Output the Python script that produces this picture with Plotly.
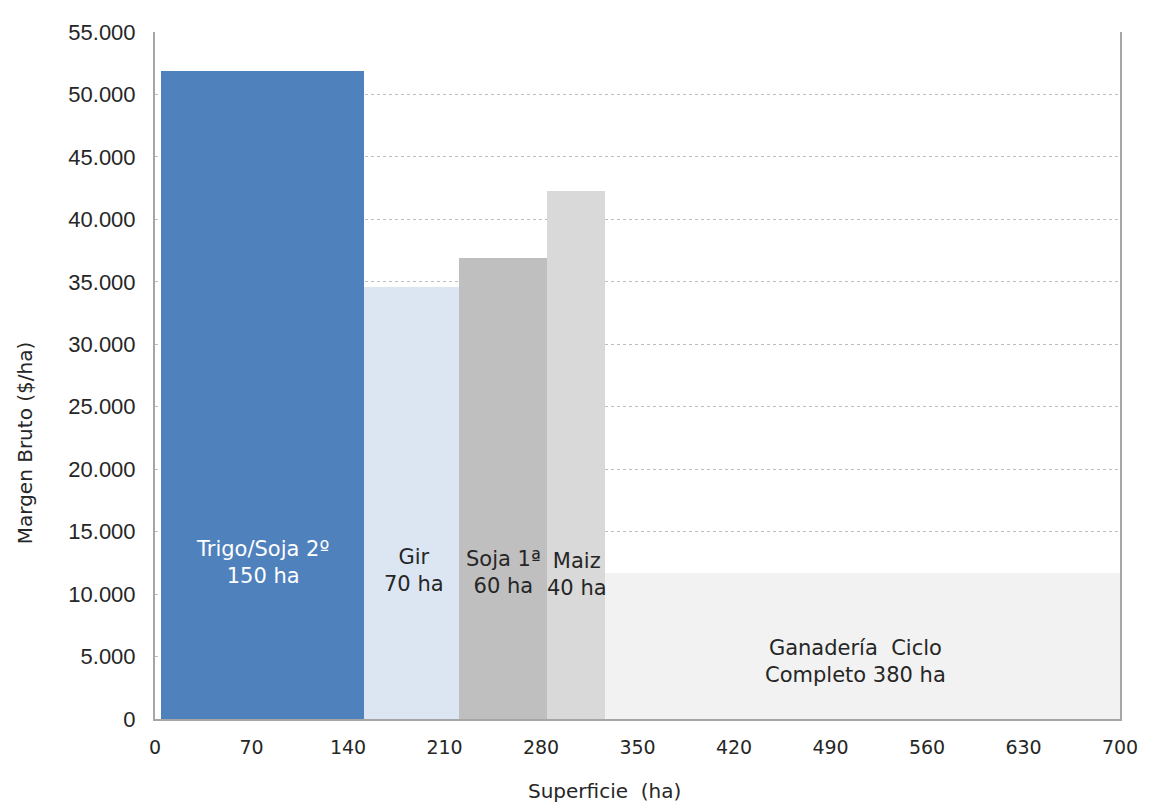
import plotly.graph_objects as go

# Data
crops = ["Trigo/Soja 2º", "Gir", "Soja 1ª", "Maiz", "Ganadería  Ciclo<br>Completo"]
hectares = [150, 70, 60, 40, 380]
margin_bruto = [51900, 34600, 36900, 42300, 11700]
# bar edges along the Superficie axis as drawn in the reference
x_edges = [4.3, 151.7, 220.8, 284.2, 326.2, 700]
# label anchor positions as seen in the reference
label_x = [78, 188, 253, 306, 508]
label_y = [12500, 11850, 11750, 11550, 4600]
colors = ["#4F81BD", "#DCE6F2", "#BFBFBF", "#D9D9D9", "#F2F2F2"]
x_ticks = list(range(0, 701, 70))
y_ticks = list(range(0, 55001, 5000))
y_tick_text = ["0" if v == 0 else f"{v:,}".replace(",", ".") for v in y_ticks]

mids = [(a + b) / 2 for a, b in zip(x_edges[:-1], x_edges[1:])]
widths = [b - a for a, b in zip(x_edges[:-1], x_edges[1:])]

FONT = "DejaVu Sans"
TXT = "#262626"

fig = go.Figure()
fig.add_trace(go.Bar(
    x=mids, y=margin_bruto, width=widths,
    marker=dict(color=colors, line=dict(width=0)),
    hoverinfo="skip", showlegend=False,
))

for i, (c, h) in enumerate(zip(crops, hectares)):
    txt = f"{c} {h} ha" if i == 4 else f"{c}<br>{h} ha"
    fig.add_annotation(
        x=label_x[i], y=label_y[i], text=txt, showarrow=False,
        font=dict(family=FONT, size=21, color="white" if i == 0 else TXT),
        align="center", xref="x", yref="y",
    )

fig.add_annotation(
    x=0.466, y=-0.105, xref="paper", yref="paper", text="Superficie  (ha)",
    showarrow=False, font=dict(family=FONT, size=20, color=TXT),
    xanchor="center", yanchor="middle",
)
fig.add_annotation(
    x=-0.135, y=0.401, xref="paper", yref="paper", text="Margen Bruto ($/ha)",
    textangle=-90, showarrow=False,
    font=dict(family=FONT, size=20, color=TXT), xanchor="center", yanchor="middle",
)

fig.update_layout(
    width=1142, height=794,
    margin=dict(l=147, r=18, t=20, b=83),
    paper_bgcolor="white", plot_bgcolor="white",
    bargap=0,
    xaxis=dict(
        range=[0, 700], tickvals=x_ticks, ticktext=[str(v) for v in x_ticks],
        showgrid=False, showline=True, linecolor="#a6a6a6", linewidth=2,
        ticks="", tickfont=dict(family=FONT, size=19, color=TXT),
        zeroline=False, ticklabelstandoff=10, ticklabeloverflow="allow",
    ),
    yaxis=dict(
        range=[0, 55000], tickvals=y_ticks, ticktext=y_tick_text,
        showgrid=True, gridcolor="#bdbdbd", griddash="dot", gridwidth=1,
        showline=True, linecolor="#a6a6a6", linewidth=2, mirror=True,
        ticks="", tickfont=dict(family="Liberation Sans", size=22, color=TXT),
        zeroline=False, ticklabelstandoff=13,
    ),
)

fig.write_html("out.html")
